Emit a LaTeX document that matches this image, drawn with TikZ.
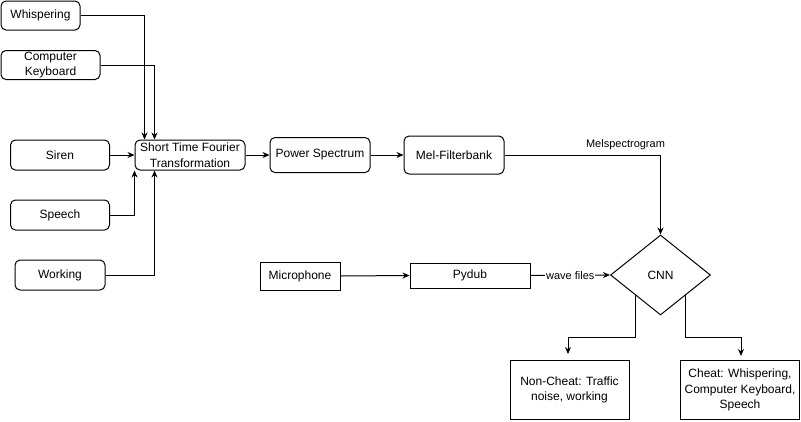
\documentclass[tikz,border=0pt]{standalone}
\usepackage{fontspec}
\setmainfont{Liberation Sans}
\usetikzlibrary{arrows.meta,shapes.geometric}
\begin{document}
\begin{tikzpicture}[x=1pt,y=-1pt,
  font=\fontsize{12}{15.5}\selectfont,
  rbox/.style={draw, line width=1pt, rounded corners=5pt, align=center, inner sep=0pt},
  sbox/.style={draw, line width=1pt, align=center, inner sep=0pt},
  arr/.style={draw, line width=1pt, -{Stealth[length=7pt,width=6pt]}},
  lbl/.style={font=\fontsize{11}{13}\selectfont, inner sep=1pt}]
\useasboundingbox (0,0) rectangle (801,421);
% sources
\node[rbox, minimum width=79pt, minimum height=29pt] (wh) at (40.5,15.5) {Whispering};
\node[rbox, minimum width=99pt, minimum height=29pt] (kb) at (50.5,65) {Computer\\Keyboard};
\node[rbox, minimum width=99pt, minimum height=30pt] (si) at (60,155) {Siren};
\node[rbox, minimum width=99pt, minimum height=30pt] (sp) at (60,215) {Speech};
\node[rbox, minimum width=90pt, minimum height=30pt] (wk) at (60,275) {Working};
% pipeline
\node[rbox, minimum width=110pt, minimum height=30pt] (st) at (190,155) {Short Time Fourier\\Transformation};
\node[rbox, minimum width=100pt, minimum height=35pt] (ps) at (320,155) {Power Spectrum};
\node[rbox, minimum width=100pt, minimum height=38pt] (mf) at (454,155) {Mel-Filterbank};
\node[draw, line width=1pt, shape=diamond, aspect=1.25, minimum width=100pt, minimum height=80pt, inner sep=0pt] (cnn) at (660.5,275) {CNN};
\node[sbox, minimum width=80pt, minimum height=28pt] (mic) at (300,276) {Microphone};
\node[sbox, minimum width=120pt, minimum height=25pt] (py) at (470,275.5) {Pydub};
\node[sbox, minimum width=119pt, minimum height=59pt] (nc) at (569.5,390) {Non-Cheat: Traffic\\noise, working};
\node[sbox, minimum width=119pt, minimum height=59pt] (ch) at (740,390) {Cheat: Whispering,\\Computer Keyboard,\\Speech};
\coordinate (ncin) at (568,354);
\coordinate (chin) at (741,356);
% connectors
\draw[arr] (wh.east) -| ([xshift=10pt]st.north west);
\draw[arr] (kb.east) -| ([xshift=20pt]st.north west);
\draw[arr] (si.east) -- (st.west);
\draw[arr] (sp.east) -| (st.south west);
\draw[arr] (wk.east) -| ([xshift=20pt]st.south west);
\draw[arr] (st.east) -- (ps.west);
\draw[arr] (ps.east) -- (mf.west);
\draw[arr] (mf.east) -| (cnn.north);
\node[lbl] (mel) at (625.5,145) {Melspectrogram};
\draw[arr] (mic.east) -- (py.west);
\draw[arr] (py.east) -- node[lbl, fill=white] (wf) {wave files} (cnn.west);
\draw[arr] (cnn.south west) |- (568,337) -- (ncin);
\draw[arr] (cnn.south east) |- (741,337) -- (chin);
\end{tikzpicture}
\end{document}
